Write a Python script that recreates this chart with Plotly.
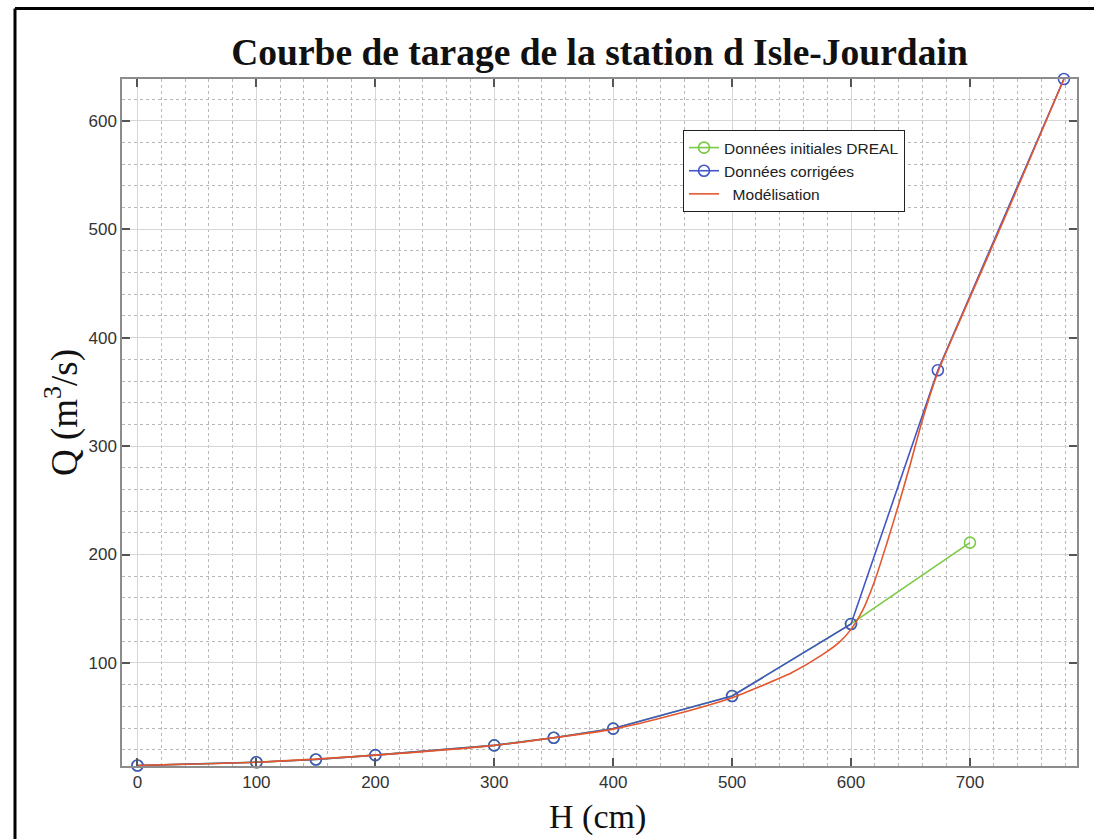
import plotly.graph_objects as go

# --- data ---
H_initial = [0, 100, 150, 200, 300, 350, 400, 500, 600, 700]
Q_initial = [5.5, 8.5, 11, 15, 24, 31, 39.5, 69.5, 136, 211]

H_corr = [0, 100, 150, 200, 300, 350, 400, 500, 600, 673, 779]
Q_corr = [5.5, 8.5, 11, 15, 24, 31, 39.5, 69.5, 136, 370, 638.5]

H_model = [0, 100, 200, 300, 400, 450, 500, 525, 550, 575, 590, 600, 610, 620, 630, 640,
           650, 660, 673, 690, 710, 740, 779]
Q_model = [5.5, 8.5, 15, 24, 39, 52, 68, 79, 91, 107, 119, 131, 149, 176, 210, 246,
           284, 324, 368, 412, 462, 538, 638.5]

x_ticks = [0, 100, 200, 300, 400, 500, 600, 700]
y_ticks = [100, 200, 300, 400, 500, 600]

BLUE = "#4257c6"
GREEN = "#7ac943"
RED = "#e4572e"

fig = go.Figure()
fig.add_trace(go.Scatter(
    x=H_initial, y=Q_initial, mode="lines+markers", name="Données initiales DREAL",
    line=dict(color=GREEN, width=1.6),
    marker=dict(symbol="circle-open", size=11, color=GREEN, line=dict(width=1.6)),
    cliponaxis=False))
fig.add_trace(go.Scatter(
    x=H_corr, y=Q_corr, mode="lines+markers", name="Données corrigées",
    line=dict(color=BLUE, width=1.6),
    marker=dict(symbol="circle-open", size=11, color=BLUE, line=dict(width=1.6)),
    cliponaxis=False))
fig.add_trace(go.Scatter(
    x=H_model, y=Q_model, mode="lines", name="\u00a0\u00a0Modélisation",
    line=dict(color=RED, width=1.6, shape="spline", smoothing=0.6),
    cliponaxis=False))

axis_common = dict(
    showline=True, linecolor="#8c8c8c", linewidth=1.5, mirror="ticks",
    ticks="inside", ticklen=8, tickwidth=1.5, tickcolor="#555555",
    showgrid=True, gridcolor="#d6d6d6", gridwidth=1, zeroline=False,
    automargin=False,
    tickfont=dict(family="Liberation Sans, Arial", size=17, color="#333333"),
    minor=dict(dtick=20, tick0=0, showgrid=True, gridcolor="#b8b8b8",
               griddash="dot", gridwidth=1, ticks=""),
)

fig.update_xaxes(range=[-13, 790], tickvals=x_ticks, **axis_common)
fig.update_yaxes(range=[5, 638.5], tickvals=y_ticks, **axis_common)

L, R, T, B = 122, 17, 79, 73
W, Hh = 1094 - L - R, 839 - T - B
fx = lambda px: (px - L) / W
fy = lambda py: 1 - (py - T) / Hh

SERIF = "Liberation Serif, Times New Roman"

fig.update_layout(
    width=1094, height=839,
    margin=dict(l=L, r=R, t=T, b=B),
    paper_bgcolor="white", plot_bgcolor="white",
    title=dict(text="<b>Courbe de tarage de la station d Isle-Jourdain</b>",
               x=0.5, xref="paper", y=1 - 52 / 839, yref="container",
               xanchor="center", yanchor="middle",
               font=dict(family=SERIF, size=37.5, color="#111")),
    legend=dict(x=fx(683), y=fy(130), xanchor="left", yanchor="top",
                bgcolor="white", bordercolor="#222", borderwidth=1,
                font=dict(family="Liberation Sans, Arial", size=15.5, color="#222")),
    annotations=[
        dict(text="H (cm)", xref="paper", yref="paper", x=fx(597), y=fy(817),
             xanchor="center", yanchor="middle", showarrow=False,
             font=dict(family=SERIF, size=34, color="#111")),
        dict(text="Q (m<sup>3</sup>/s)", xref="paper", yref="paper", x=fx(62), y=fy(413),
             xanchor="center", yanchor="middle", showarrow=False, textangle=-90,
             font=dict(family=SERIF, size=37, color="#111")),
    ],
    shapes=[
        dict(type="line", xref="paper", yref="paper", x0=fx(15), x1=fx(15),
             y0=fy(839), y1=fy(8.5), line=dict(color="black", width=3)),
        dict(type="line", xref="paper", yref="paper", x0=fx(15), x1=fx(1094),
             y0=fy(8.5), y1=fy(8.5), line=dict(color="black", width=3)),
    ],
)

fig.write_html("out.html")
